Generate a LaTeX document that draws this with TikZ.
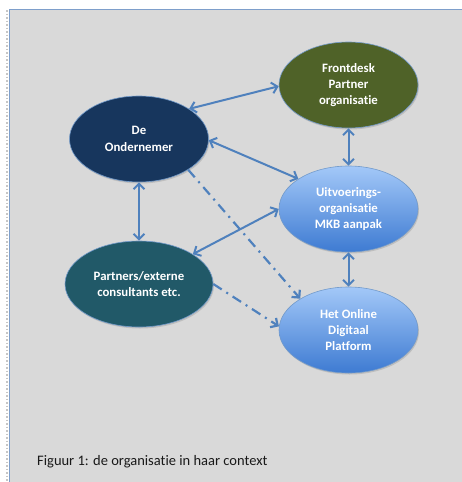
\documentclass[tikz,border=0pt]{standalone}
\usepackage{fontspec}
\setmainfont{Carlito}[Ligatures=NoCommon]
\usetikzlibrary{shapes.geometric,arrows.meta,shadows}
\definecolor{paper}{HTML}{D9D9D9}
\definecolor{frame}{HTML}{7E9FCB}
\definecolor{link}{HTML}{4F81BD}
\definecolor{navy}{HTML}{17365D}
\definecolor{olive}{HTML}{4F6228}
\definecolor{teal}{HTML}{215968}
\definecolor{skytop}{HTML}{A3C8F8}
\definecolor{skybot}{HTML}{3E7BD2}
\tikzset{
  blob/.style={ellipse, minimum width=139pt, minimum height=86pt, inner sep=0pt,
    draw=link!80!white, line width=0.6pt, text=white, align=center,
    font=\fontsize{12.8}{16.3}\selectfont\bfseries,
    drop shadow={shadow xshift=1pt, shadow yshift=-1.5pt, opacity=0.3}},
  solidblob/.style={blob, fill=#1},
  skyblob/.style={blob, top color=skytop, bottom color=skybot},
  both/.style={draw=link, line width=2pt, {Straight Barb[length=5.5pt,width=11pt]}-{Straight Barb[length=5.5pt,width=11pt]}},
  onto/.style={draw=link, line width=2.2pt, -{Straight Barb[length=5.5pt,width=11pt]},
    dash pattern=on 10pt off 5.5pt on 2pt off 5.5pt},
}
\begin{document}
\begin{tikzpicture}[x=1pt, y=-1pt]
  \useasboundingbox (0,0) rectangle (462,482);
  % page and figure panel
  \fill[white] (0,0) rectangle (462,482);
  \draw[gray!45, line width=1.5pt, dotted] (7,10) -- (7,482);
  \fill[paper] (9,9) rectangle (462,482);
  \draw[frame, line width=0.8pt] (9.4,482) -- (9.4,9.4) -- (462,9.4);

  % the five actors
  \node[solidblob=navy]  (ond) at (139,139)   {De\\Ondernemer};
  \node[solidblob=olive] (fd)  at (348.5,85)  {Frontdesk\\Partner\\organisatie};
  \node[skyblob]         (uit) at (348.5,209) {Uitvoerings-\\organisatie\\MKB aanpak};
  \node[solidblob=teal, minimum width=148pt] (par) at (139,284) {Partners/externe\\consultants etc.};
  \node[skyblob]         (onl) at (348.5,330) {Het Online\\Digitaal\\Platform};

  % two-way relations
  \draw[both] (ond.31)    -- (fd.181);
  \draw[both] (ond.-1)    -- (uit.149);
  \draw[both] (ond.south) -- (par.north);
  \draw[both] (par.29)    -- (uit.west);
  \draw[both] (fd.south)  -- (uit.north);
  \draw[both] (uit.south) -- (onl.north);

  % indirect relations to the platform
  \draw[onto] (ond.-32) -- (onl.147);
  \draw[onto] (par.east) -- (onl.177);

  % caption
  \node[anchor=base west, font=\fontsize{14.5}{17}\selectfont, text=black!90, inner sep=0pt]
    (cap) at (37,465) {Figuur 1: de organisatie in haar context};
\end{tikzpicture}
\end{document}
